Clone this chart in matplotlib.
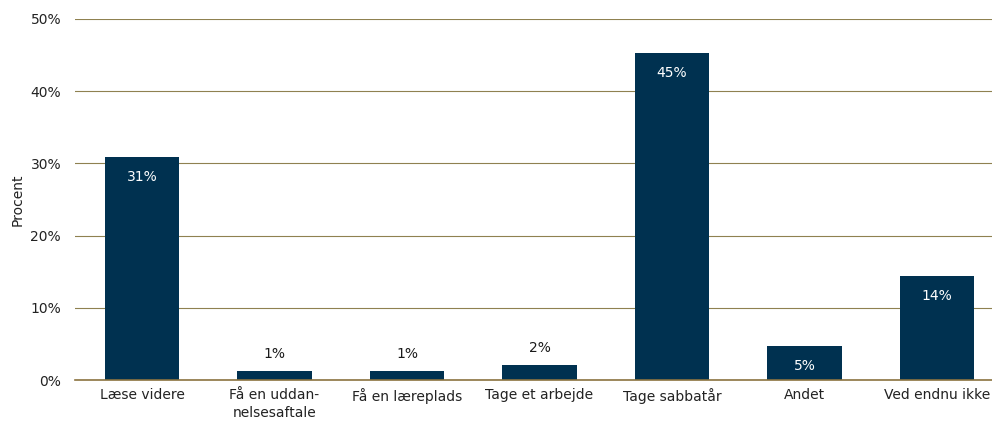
import numpy as np
import matplotlib.pyplot as plt

categories = ["Læse videre", "Få en uddan-\nnelsesaftale", "Få en læreplads",
              "Tage et arbejde", "Tage sabbatår", "Andet", "Ved endnu ikke"]
values = [30.9, 1.25, 1.25, 2.1, 45.3, 4.7, 14.4]
labels = ["31%", "1%", "1%", "2%", "45%", "5%", "14%"]
yticks = [0, 10, 20, 30, 40, 50]

plt.rcParams['font.family'] = 'DejaVu Sans'

fig = plt.figure(figsize=(9.92, 4.23), dpi=100)
ax = fig.add_axes([75/992, 43/423, 917/992, 361/423])

x = np.arange(len(categories))
ax.bar(x, values, width=0.56, color='#003150', zorder=3)

for xi, v, lab in zip(x, values, labels):
    if v > 4:
        ax.text(xi, v - 2.8, lab, ha='center', va='center', color='white', fontsize=10, zorder=4)
    else:
        ax.text(xi, v + 2.3, lab, ha='center', va='center', color='#1a1a1a', fontsize=10, zorder=4)

ax.set_xlim(-0.506, 6.415)
ax.set_ylim(0, 50)
ax.set_yticks(yticks)
ax.set_yticklabels([f"{t}%" for t in yticks], fontsize=10, color='#222222')
ax.set_xticks(x)
ax.set_xticklabels(categories, fontsize=10, color='#222222', linespacing=1.3)
ax.tick_params(axis='both', length=0, pad=6)
ax.tick_params(axis='y', pad=10)
ax.grid(axis='y', color='#8f8150', linewidth=0.8, zorder=0)
for s in ['top', 'right', 'left']:
    ax.spines[s].set_visible(False)
ax.spines['bottom'].set_color('#8b7340')
ax.spines['bottom'].set_linewidth(1.2)
ax.spines['bottom'].set_zorder(5)
ax.set_ylabel("Procent", fontsize=10, color='#222222', labelpad=4)

fig.savefig("out.png", dpi=100)
